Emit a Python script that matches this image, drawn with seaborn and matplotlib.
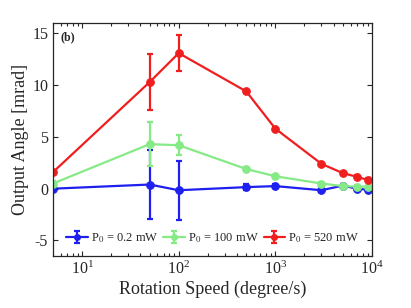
import matplotlib
matplotlib.use("Agg")
import matplotlib.pyplot as plt
import pandas as pd
import numpy as np
import seaborn as sns
from matplotlib.legend_handler import HandlerTuple

# rotation speeds (degree/s)
speed = [5, 50, 100, 500, 1000, 3000, 5000, 7000, 9000]

# output angle [mrad] and error bars for each pump power
angle_02 = [0.0, 0.4, -0.15, 0.15, 0.25, -0.15, 0.3, 0.0, -0.1]
err_02 = [0.2, 3.3, 2.85, 0.3, 0.2, 0.15, 0.15, 0.15, 0.15]
angle_100 = [0.5, 4.3, 4.2, 1.9, 1.2, 0.5, 0.25, 0.2, 0.2]
err_100 = [0.2, 2.1, 0.95, 0.15, 0.15, 0.15, 0.15, 0.15, 0.1]
angle_520 = [1.6, 10.3, 13.1, 9.4, 5.8, 2.4, 1.5, 1.15, 0.85]
err_520 = [0.15, 2.7, 1.75, 0.15, 0.15, 0.15, 0.15, 0.15, 0.15]

labels = ['P$_0$ = 0.2 mW', 'P$_0$ = 100 mW', 'P$_0$ = 520 mW']
colors = ['#1f1fef', '#86ea86', '#ef1f1f']

sns.set_theme(style='ticks')
plt.rcParams['font.family'] = ['Liberation Serif', 'DejaVu Serif']
plt.rcParams['mathtext.fontset'] = 'stix'
plt.rcParams['xtick.direction'] = 'in'
plt.rcParams['ytick.direction'] = 'in'

fig = plt.figure(figsize=(4.11, 3.08), dpi=100)
ax = fig.add_axes([0.129, 0.169, 0.776, 0.756])

series = [(angle_02, err_02), (angle_100, err_100), (angle_520, err_520)]
handles = []
for (vals, errs), lab, col in zip(series, labels, colors):
    df = pd.DataFrame({'speed': speed, 'angle': vals})
    sns.lineplot(data=df, x='speed', y='angle', ax=ax, color=col, marker='o',
                 markersize=5.5, markeredgecolor=col, linewidth=1.6, legend=False)
    eb = ax.errorbar(speed, vals, yerr=errs, fmt='none', ecolor=col,
                     elinewidth=1.6, capsize=2.2, capthick=1.6)
    line = plt.Line2D([], [], color=col, marker='o', markersize=4, linewidth=1.6)
    handles.append((line, eb))

ax.set_xscale('log')
ax.set_xlim(5, 1e4)
ax.set_ylim(-6.5, 16)
ax.set_yticks([-5, 0, 5, 10, 15])
ax.set_yticklabels(['-5', '0', '5', '10', '15'])
ax.tick_params(axis='both', which='both', top=True, right=True, labelsize=11.5,
               colors='#262626', length=3.5, width=0.8)
ax.tick_params(which='minor', length=2)
for s in ax.spines.values():
    s.set_color('#262626')
    s.set_linewidth(0.9)

ax.set_xlabel('Rotation Speed (degree/s)', fontsize=13, labelpad=2)
ax.set_ylabel('Output Angle [mrad]', fontsize=13, labelpad=2)
ax.text(0.025, 0.965, '(b)', transform=ax.transAxes, fontsize=8.5,
        fontweight='bold', va='top', ha='left')

ax.legend(handles, labels, loc='lower center', ncol=3, frameon=False,
          fontsize=9, handlelength=1.7, handletextpad=0.25, columnspacing=0.4,
          borderaxespad=0.45, handler_map={tuple: HandlerTuple(ndivide=1)})

fig.savefig('out.png', dpi=100)
